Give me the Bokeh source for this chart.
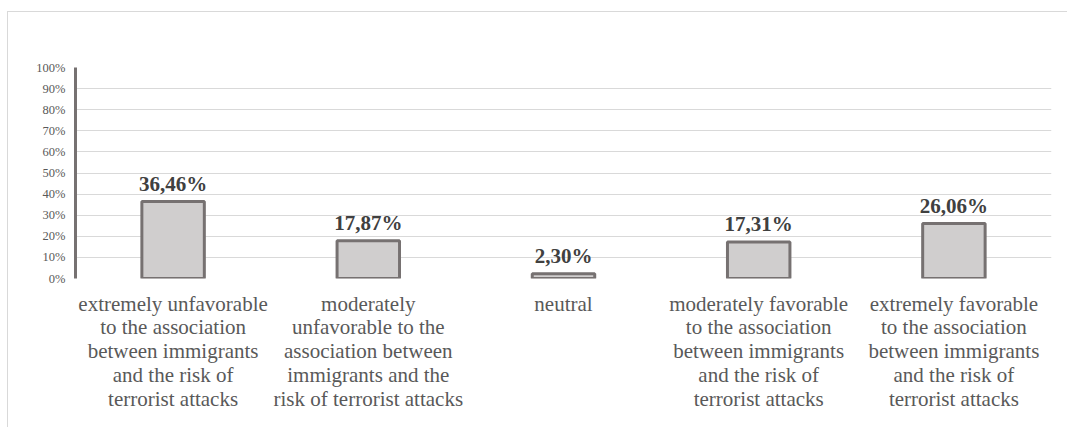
from bokeh.plotting import figure
from bokeh.models import ColumnDataSource, FixedTicker, CustomJSTickFormatter
from bokeh.core.properties import value
from bokeh.embed import file_html
from bokeh.resources import INLINE

categories = [
    "extremely unfavorable\nto the association\nbetween immigrants\nand the risk of\nterrorist attacks",
    "moderately\nunfavorable to the\nassociation between\nimmigrants and the\nrisk of terrorist attacks",
    "neutral",
    "moderately favorable\nto the association\nbetween immigrants\nand the risk of\nterrorist attacks",
    "extremely favorable\nto the association\nbetween immigrants\nand the risk of\nterrorist attacks",
]
values = [36.46, 17.87, 2.30, 17.31, 26.06]
y_ticks = [0, 10, 20, 30, 40, 50, 60, 70, 80, 90, 100]

SERIF = "Liberation Serif"

labels = [("%.2f" % v).replace(".", ",") + "%" for v in values]
src = ColumnDataSource(dict(cat=categories, val=values, lab=labels))

p = figure(
    x_range=categories, y_range=(0, 100),
    width=1060, height=416,
    output_backend="svg", toolbar_location=None,
    min_border_left=67, min_border_right=17,
    min_border_top=55, min_border_bottom=150,
)
p.margin = (12, 0, 0, 8)
p.styles = {"box-shadow": "-1px -1px 0 0 #d9d9d9"}
p.outline_line_color = None
p.background_fill_color = "white"
p.border_fill_color = "white"

p.vbar(x="cat", top="val", width=0.32, source=src,
       fill_color="#d0cece", line_color="#767171", line_width=3)

p.text(x="cat", y="val", text="lab", source=src,
       text_align="center", text_baseline="bottom", y_offset=-6,
       text_font=value(SERIF), text_font_style="bold",
       text_font_size="21px", text_color="#404040")

p.xgrid.grid_line_color = None
p.ygrid.grid_line_color = "#d9d9d9"
p.ygrid.grid_line_width = 1
p.yaxis.ticker = FixedTicker(ticks=y_ticks)
p.yaxis.formatter = CustomJSTickFormatter(code="return tick.toFixed(0) + '%';")
p.yaxis.axis_line_color = "#767171"
p.yaxis.axis_line_width = 3
p.yaxis.major_tick_line_color = None
p.yaxis.minor_tick_line_color = None
p.yaxis.major_label_text_font = SERIF
p.yaxis.major_label_text_font_size = "12.5px"
p.yaxis.major_label_text_color = "#595959"
p.yaxis.major_label_standoff = 4

p.xaxis.axis_line_color = None
p.xaxis.major_tick_line_color = None
p.xaxis.minor_tick_line_color = None
p.xaxis.major_label_text_font = SERIF
p.xaxis.major_label_text_font_size = "21px"
p.xaxis.major_label_text_color = "#595959"
p.xaxis.major_label_text_line_height = 0.99
p.xaxis.major_label_standoff = 7

open("out.html", "w").write(file_html(p, INLINE))
